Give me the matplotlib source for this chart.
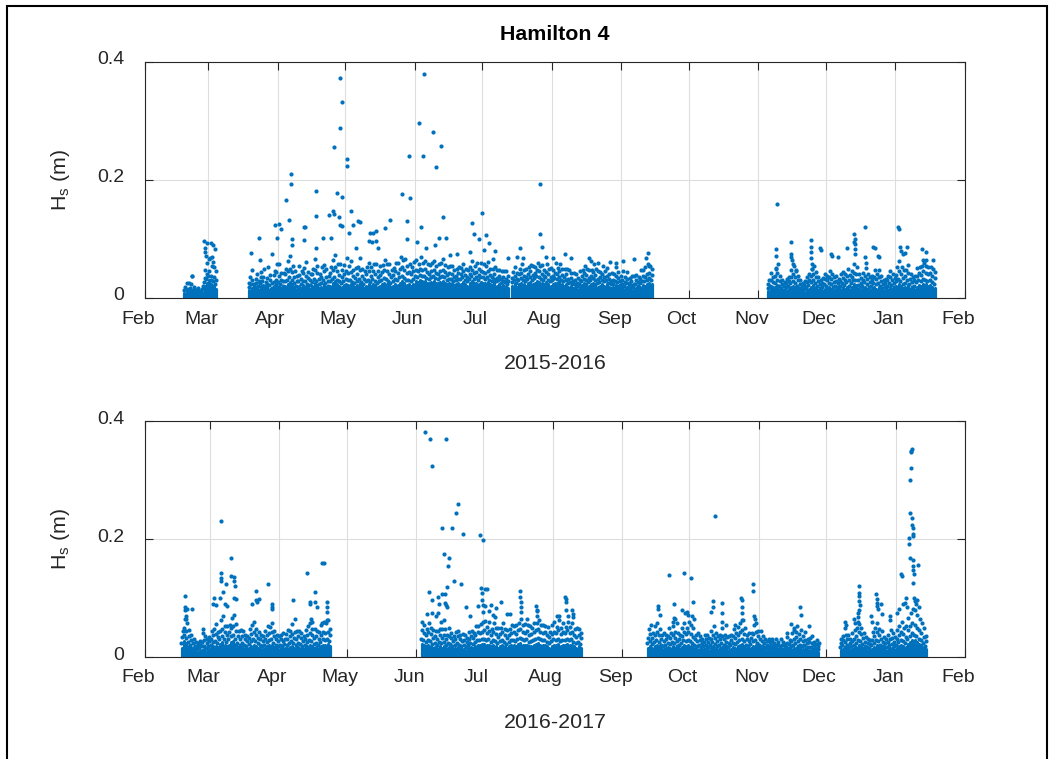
import matplotlib.pyplot as plt
import matplotlib.transforms as mtransforms
import pandas as pd

plt.rcParams['font.family'] = ['Liberation Sans', 'DejaVu Sans']
plt.rcParams['mathtext.fontset'] = 'custom'
plt.rcParams['mathtext.rm'] = 'Liberation Sans'

# Daily Hs summaries in mm, one group per day, days separated by commas.
# First number: top of the continuous low-Hs record for that day,
# following numbers: single readings standing above it.
start_a = "2015-02-18"
hs_mm_a = ("9 13 18, 11 16 25, 8 12 15, 12 17 24 37, 10 14 19, 8 11 14, 9 13 17, "
           "8 12, 11 15 21, 20 27 34 48, 26 33 41 60, 30 38 46 68, 24 31 38 55, "
           "22 29 36 52, 16 23 30 45")

start_b1 = "2015-03-19"
hs_mm_b1 = (
    "14 19 26 35, 17 23 31 47, 13 18 24, 19 25 33 41, 16 21 29, 20 26 35 44, "
    "22 28 36 50, 15 20 27, 18 24 34 52, 16 22 30 39, 13 17 25, 20 27 39 46, "
    "23 30 44 57, "
    "20 27 37 58, 17 23 31 42, 15 21 28 43, 21 28 40 49, 24 31 46 63, "
    "27 35 49 71, 23 30 44 55, 19 25 35 46, 15 21 29 38, 21 28 39 55, "
    "17 24 33 45, 22 29 42 51, 21 28 38 61, 18 24 34 44, 16 22 30 40, "
    "20 27 41 50, 25 32 47 66, 22 29 43 54, 17 23 32 41, 19 26 36 52, "
    "24 31 45 56, 18 25 35 49, 15 21 29 37, 21 28 42 53, 25 33 47 64, "
    "28 36 52 73, 23 30 45 57, 21 28 39 58, 19 26 36 47, 22 29 41 56, "
    "24 32 46 68, 22 30 43 55, 23 31 44 62, 20 27 37 48, 18 25 34 51, "
    "22 29 41 53, 25 33 48 67, 20 27 38 49, 17 23 33 46, 21 28 40 52, "
    "23 31 45 59, 20 27 38 53, 24 32 46 58, 22 29 41 57, 18 25 35 45, "
    "20 28 39 54, 23 31 44 56, 26 34 48 64, 24 32 45 58, 22 29 40 57, "
    "19 26 36 47, 21 28 39 51, 24 32 46 59, 22 30 42 60, 26 35 49 70, "
    "28 37 52 65, 25 34 47 66, 22 30 43 55, 23 31 44 58, 21 28 40 52, "
    "24 32 45 61, "
    "29 38 48 65, 27 36 46 58, 30 39 50 69, 28 37 47 60, 29 38 49 63, "
    "26 34 44 57, 25 33 41 56, 27 36 45 59, 28 37 47 62, 26 34 43 55, "
    "25 32 40 58, 27 36 46 59, 29 38 48 66, 26 35 44 56, 24 31 39 52, "
    "25 33 42 54, 25 32 41 55, 22 29 36 47, 23 30 38 49, 25 33 42 53, "
    "24 32 40 51, 27 35 45 57, 24 31 39 50, 21 28 35 48, 25 32 41 53, "
    "28 37 47 63, 25 33 42 54, 26 35 44 59, 24 31 39 50, 27 36 46 60, "
    "26 35 44 58, 25 33 42 54, 27 36 46 61, 24 31 39 50, 22 29 36 50, "
    "25 32 41 52, 21 28 34 47, 23 30 37 48, 19 26 32 45, 22 29 36 46, "
    "20 27 33 46, 17 23 29 38")

start_b2 = "2015-07-14"
hs_mm_b2 = (
    "20 27 34 44, 23 30 38 52, 19 26 33 42, 24 31 40 50, 26 34 43 57, "
    "23 30 38 48, 21 28 35 49, 25 32 41 52, 27 35 45 56, 24 31 39 55, "
    "26 34 43 53, 28 37 47 60, 27 35 45 55, 25 32 41 56, 23 30 38 48, "
    "27 35 44 58, 24 31 40 50, 21 28 36 51, "
    "23 30 38 48, 26 34 43 60, 25 32 41 51, 28 36 46 58, 24 31 39 49, "
    "21 28 36 50, 24 31 40 50, 19 26 33 47, 20 27 34 43, 17 23 29 43, "
    "18 24 31 40, 15 20 26 34, 18 24 31 45, 22 29 37 47, 25 32 42 55, "
    "23 30 39 49, 20 27 34 48, 23 30 38 48, 26 34 44 57, 23 30 39 49, "
    "19 26 33 46, 20 27 35 44, 24 31 41 54, 21 28 36 46, 23 30 38 51, "
    "19 25 32 41, 17 23 29 42, 18 24 31 40, 22 29 37 53, 20 27 34 44, "
    "17 22 28 37, "
    "18 24 31 46, 16 21 27 36, 18 25 32 44, 15 20 26 34, 17 22 29 38, "
    "14 19 24 37, 17 23 30 39, 16 21 27 35, 19 26 33 48, 22 29 37 47, "
    "21 28 36 52, 24 31 40 57, 26 34 43 55, 23 30 39 50")

start_c = "2015-11-05"
hs_mm_c = (
    "12 17 23 31, 15 21 30 42, 14 19 27 35, 19 26 38 51, 22 30 42 58, "
    "15 21 29 37, 12 17 24 31, 10 14 20 27, 13 18 25 33, 15 20 28 36, "
    "18 25 35 47, 21 29 40 55, 19 26 36 45, 15 21 30 38, 12 17 24 31, "
    "9 13 19 25, 11 16 22 29, 14 19 27 35, 16 22 31 40, 19 27 37 49, "
    "22 30 41 54, 18 25 35 44, 14 20 28 36, 12 17 23 30, 14 19 26 34, "
    "16 23 32 41, "
    "15 21 30 38, 18 25 35 46, 16 23 32 41, 14 19 27 35, 15 21 29 37, "
    "13 18 25 32, 15 21 29 40, 18 25 34 44, 16 22 31 40, 19 27 37 50, "
    "15 21 30 39, 19 26 36 46, 23 31 43 58, 22 30 41 52, 16 22 31 40, "
    "14 19 26 34, 15 21 30 42, 19 27 37 51, 16 23 32 41, 14 19 27 35, "
    "15 21 30 38, 18 25 35 47, 16 23 32 41, 19 26 36 48, 15 21 29 37, "
    "12 17 23 30, 13 18 25 32, 15 21 30 38, 18 25 35 45, 16 22 31 40, "
    "14 19 26 34, "
    "20 28 39 53, 24 33 45 62, 21 29 41 52, 17 24 34 48, 19 26 37 47, "
    "22 30 42 56, 16 23 32 41, 14 19 27 35, 15 21 30 38, 19 27 37 51, "
    "22 30 42 53, 20 28 39 55, 24 33 45 60, 23 31 43 54, 21 29 40 52, "
    "22 30 42 53, 19 27 37 50, 17 24 34 44")

start_d = "2016-02-17"
hs_mm_d = (
    "16 23 34 44, 27 37 49 64, 24 33 44 58, 18 25 36 46, 15 21 29 37, "
    "11 16 23 30, 10 14 19 25, 9 13 18 24, 10 15 21 27, 12 18 26 41, "
    "14 19 28 35, 11 16 23 30, 13 18 27 34, "
    "15 21 30 44, 18 26 37 47, 19 27 39 56, 17 24 34 43, 22 31 44 62, "
    "25 35 48 70, 21 30 42 53, 18 26 37 52, 21 30 43 54, 25 35 49 66, "
    "27 37 52 72, 22 31 44 56, 17 24 35 44, 15 21 30 45, 17 24 35 44, "
    "15 21 30 38, 13 19 27 35, 16 22 32 47, 19 27 39 55, 21 30 42 60, "
    "19 27 38 48, 16 23 33 42, 15 21 30 38, 13 19 27 35, 15 21 30 44, "
    "18 26 37 53, 20 28 40 51, 21 30 42 57, 17 24 35 44, 15 21 30 38, "
    "13 19 27 35, "
    "15 21 30 38, 13 19 27 40, 16 22 31 39, 15 21 30 45, 17 24 35 44, "
    "19 27 39 56, 16 23 33 42, 15 21 30 44, 17 24 35 44, 16 22 32 41, "
    "13 19 27 35, 15 21 31 46, 18 26 37 52, 21 29 41 58, 19 27 38 48, "
    "16 22 32 47, 17 24 35 44, 15 21 30 43, 18 26 37 55, 21 30 42 60, "
    "20 28 40 57, 22 31 43 63, 19 27 38 48")

start_e = "2016-06-03"
hs_mm_e = (
    "22 31 45 60, 20 28 40 55, 18 26 37 47, 21 29 42 58, 19 27 39 49, "
    "16 22 32 46, 17 24 35 44, 15 21 30 44, 18 26 37 47, 16 23 33 48, "
    "18 26 37 47, 15 21 30 38, 17 24 35 50, 16 22 32 41, 13 19 27 35, "
    "15 21 30 42, 17 24 35 44, 15 21 30 38, 13 19 27 39, 14 20 29 37, "
    "12 17 25 32, 15 21 30 43, 17 24 35 44, 16 22 32 41, 18 26 37 52, "
    "21 29 42 53, 20 28 40 56, 22 30 43 59, "
    "22 31 45 61, 20 28 40 51, 21 30 44 60, 18 26 37 47, 21 29 42 57, "
    "19 27 39 49, 16 23 34 49, 19 27 39 49, 21 29 42 58, 18 26 37 47, "
    "16 22 32 46, 18 26 38 48, 20 28 40 55, 21 29 42 53, 19 27 39 54, "
    "22 31 45 57, 24 33 48 64, 21 30 43 54, 20 28 40 56, 21 30 44 55, "
    "18 26 37 52, 19 27 39 49, 21 29 42 58, 22 31 45 57, 24 33 48 63, "
    "21 30 43 54, 20 28 40 55, 21 29 42 53, 18 26 37 51, 16 23 34 43, "
    "19 27 39 54, "
    "21 30 43 59, 20 28 40 51, 22 31 45 62, 19 27 39 49, 21 29 42 57, "
    "20 28 40 51, 22 31 45 60, 20 28 40 51, 21 30 43 58, 18 26 38 48, "
    "16 23 34 49, 18 26 37 47, 16 22 32 41")

start_f = "2016-09-12"
hs_mm_f = (
    "16 23 33 47, 19 27 39 55, 16 22 32 41, 18 26 37 52, 21 29 42 58, "
    "18 26 37 47, 15 21 30 38, 13 19 27 40, 15 21 30 38, 17 24 35 49, "
    "16 22 32 41, 18 26 37 53, 16 23 33 42, 13 19 27 41, 15 21 30 38, "
    "17 24 35 50, 21 29 42 57, 19 27 39 49, 21 29 42 60, "
    "19 27 39 55, 16 23 34 50, 15 21 30 38, 13 19 27 40, 14 20 28 36, "
    "12 17 24 31, 13 19 26 38, 15 21 30 38, 12 17 25 32, 15 21 30 44, "
    "18 26 37 52, 16 22 32 41, 13 19 27 35, 15 21 30 38, 17 24 35 49, "
    "15 21 30 38, 13 19 26 34, 12 17 24 36, 14 20 29 37, 17 24 35 47, "
    "16 22 32 41, 18 26 37 51, 21 29 42 57, 22 31 45 62, 19 27 39 49, "
    "15 21 30 38, 13 19 27 41, 16 22 32 41, 19 27 39 54, 21 29 42 58, "
    "17 24 35 44, "
    "15 21 30 44, 13 19 27 35, 12 17 24 31, 11 15 21 27, 10 14 19 25, "
    "11 15 21 27, 9 13 18 24, 8 12 16 21, 10 14 20 26, 9 13 18 30, "
    "10 14 20 26, 8 12 17 22, 12 17 23 34, 11 15 22 28, 13 19 27 40, "
    "15 21 30 46, 16 23 34 43, 13 19 27 39, 15 21 30 45, 13 19 27 35, "
    "14 20 28 42, 12 17 24 31, 12 17 25 32, 12 17 23 35, 10 14 20 26, "
    "11 15 22 28, 9 13 18 24")

start_g = "2016-12-07"
hs_mm_g = (
    "12 17 23 30, 14 20 28 36, 12 17 25 38, 15 21 30 38, 12 17 24 31, "
    "13 19 27 41, 15 21 30 45, 17 24 35 50, 21 29 42 56, 19 27 39 49, "
    "16 22 32 41, 13 19 26 34, 12 17 24 31, 11 15 22 28, 14 20 28 42, "
    "17 24 35 49, 21 29 42 58, 19 27 38 48, 15 21 30 44, 13 19 26 34, "
    "12 17 23 30, 12 17 25 37, 15 21 30 45, 16 22 32 41, 13 19 26 34, "
    "15 21 30 46, 18 26 37 53, 21 29 42 60, 19 27 39 49, 17 24 34 52, "
    "22 31 45 66, 26 36 52 75, 29 40 58 82, 28 38 55 79, 26 36 50 72, "
    "22 31 45 64, 20 28 40 58, 17 24 34 50, 13 19 27 35")

# Individual high readings (time, Hs in m)
peaks_2015 = [
    ("2015-02-20 12", 0.025), ("2015-02-21 18", 0.037), ("2015-02-27 08", 0.096),
    ("2015-02-27 14", 0.085), ("2015-02-27 20", 0.078), ("2015-02-28 06", 0.072),
    ("2015-02-28 12", 0.093), ("2015-03-01 10", 0.066), ("2015-03-02 12", 0.094),
    ("2015-03-02 18", 0.070), ("2015-03-03 02", 0.089), ("2015-03-03 10", 0.061),
    ("2015-03-04 00", 0.083),
    ("2015-03-20 01", 0.076), ("2015-03-23 22", 0.102), ("2015-03-24 05", 0.064),
    ("2015-03-29 12", 0.075), ("2015-03-30 21", 0.124), ("2015-03-31 18", 0.102),
    ("2015-04-01 19", 0.125), ("2015-04-02 10", 0.117), ("2015-04-04 22", 0.166),
    ("2015-04-05 23", 0.132), ("2015-04-06 22", 0.193), ("2015-04-06 23", 0.211),
    ("2015-04-07 10", 0.100), ("2015-04-07 12", 0.090), ("2015-04-12 14", 0.099),
    ("2015-04-12 19", 0.121), ("2015-04-13 07", 0.121), ("2015-04-17 22", 0.139),
    ("2015-04-17 23", 0.181), ("2015-04-18 02", 0.084), ("2015-04-21 02", 0.102),
    ("2015-04-24 00", 0.141), ("2015-04-24 14", 0.102), ("2015-04-25 17", 0.147),
    ("2015-04-26 06", 0.256), ("2015-04-26 08", 0.142), ("2015-04-27 14", 0.178),
    ("2015-04-28 12", 0.138), ("2015-04-28 19", 0.373), ("2015-04-28 21", 0.288),
    ("2015-04-28 22", 0.123), ("2015-04-29 13", 0.332), ("2015-04-29 19", 0.171),
    ("2015-04-29 20", 0.122),
    ("2015-05-01 22", 0.236), ("2015-05-01 23", 0.223), ("2015-05-02 22", 0.111),
    ("2015-05-03 19", 0.148), ("2015-05-04 17", 0.123), ("2015-05-05 19", 0.085),
    ("2015-05-06 22", 0.130), ("2015-05-07 19", 0.128), ("2015-05-11 14", 0.097),
    ("2015-05-12 04", 0.110), ("2015-05-13 05", 0.095), ("2015-05-13 12", 0.111),
    ("2015-05-14 17", 0.113), ("2015-05-14 20", 0.096), ("2015-05-15 17", 0.084),
    ("2015-05-18 23", 0.119), ("2015-05-21 01", 0.133), ("2015-05-26 06", 0.176),
    ("2015-05-28 14", 0.131), ("2015-05-28 16", 0.100), ("2015-05-29 17", 0.240),
    ("2015-05-29 19", 0.170),
    ("2015-06-01 22", 0.095), ("2015-06-02 23", 0.296), ("2015-06-03 17", 0.121),
    ("2015-06-04 18", 0.240), ("2015-06-05 01", 0.380), ("2015-06-06 02", 0.084),
    ("2015-06-09 05", 0.281), ("2015-06-10 02", 0.090), ("2015-06-10 12", 0.222),
    ("2015-06-11 17", 0.102), ("2015-06-12 18", 0.258), ("2015-06-13 19", 0.137),
    ("2015-06-14 20", 0.101), ("2015-06-16 19", 0.073), ("2015-06-20 00", 0.074),
    ("2015-06-25 12", 0.078), ("2015-06-26 17", 0.127), ("2015-06-27 14", 0.109),
    ("2015-06-29 19", 0.100), ("2015-06-30 21", 0.144),
    ("2015-07-01 19", 0.082), ("2015-07-02 22", 0.106), ("2015-07-04 00", 0.093),
    ("2015-07-06 00", 0.066), ("2015-07-07 00", 0.079), ("2015-07-12 17", 0.067),
    ("2015-07-16 14", 0.070), ("2015-07-17 19", 0.084), ("2015-07-19 07", 0.068),
    ("2015-07-26 15", 0.108), ("2015-07-26 17", 0.194), ("2015-07-27 17", 0.086),
    ("2015-07-29 12", 0.070),
    ("2015-08-01 14", 0.068), ("2015-08-06 19", 0.075), ("2015-08-09 14", 0.068),
    ("2015-08-17 19", 0.067), ("2015-08-18 10", 0.062), ("2015-08-21 14", 0.060),
    ("2015-08-27 00", 0.061), ("2015-08-29 14", 0.060),
    ("2015-09-01 19", 0.063), ("2015-09-06 17", 0.066), ("2015-09-12 00", 0.067),
    ("2015-09-12 18", 0.076), ("2015-09-13 06", 0.054),
    ("2015-11-08 16", 0.083), ("2015-11-08 17", 0.071), ("2015-11-08 18", 0.049),
    ("2015-11-09 07", 0.159), ("2015-11-15 10", 0.095), ("2015-11-15 14", 0.074),
    ("2015-11-15 18", 0.070), ("2015-11-16 02", 0.064), ("2015-11-16 08", 0.057),
    ("2015-11-17 19", 0.047), ("2015-11-24 10", 0.098), ("2015-11-24 12", 0.087),
    ("2015-11-24 14", 0.078), ("2015-11-24 16", 0.067), ("2015-11-24 18", 0.058),
    ("2015-11-24 20", 0.049), ("2015-11-28 14", 0.084), ("2015-11-29 00", 0.082),
    ("2015-12-03 05", 0.075), ("2015-12-03 19", 0.071), ("2015-12-06 14", 0.069),
    ("2015-12-10 14", 0.085), ("2015-12-13 12", 0.095), ("2015-12-13 17", 0.108),
    ("2015-12-13 20", 0.100), ("2015-12-13 22", 0.075), ("2015-12-14 02", 0.083),
    ("2015-12-14 06", 0.092), ("2015-12-18 12", 0.121), ("2015-12-18 16", 0.070),
    ("2015-12-18 20", 0.060), ("2015-12-22 00", 0.086), ("2015-12-22 21", 0.085),
    ("2015-12-24 06", 0.072), ("2015-12-24 18", 0.070),
    ("2016-01-02 07", 0.121), ("2016-01-02 12", 0.117), ("2016-01-02 22", 0.086),
    ("2016-01-03 10", 0.080), ("2016-01-04 06", 0.074), ("2016-01-05 12", 0.077),
    ("2016-01-06 05", 0.086), ("2016-01-13 00", 0.083), ("2016-01-13 08", 0.065),
    ("2016-01-14 12", 0.078), ("2016-01-14 20", 0.064), ("2016-01-17 22", 0.065),
]

peaks_2016 = [
    ("2016-02-18 17", 0.085), ("2016-02-18 19", 0.080), ("2016-02-18 20", 0.103),
    ("2016-02-19 06", 0.070), ("2016-02-19 10", 0.065), ("2016-02-19 17", 0.082),
    ("2016-02-21 22", 0.081), ("2016-02-26 22", 0.048),
    ("2016-03-02 12", 0.090), ("2016-03-02 17", 0.100), ("2016-03-03 17", 0.088),
    ("2016-03-05 12", 0.100), ("2016-03-05 17", 0.142), ("2016-03-05 18", 0.134),
    ("2016-03-05 19", 0.230), ("2016-03-05 20", 0.128), ("2016-03-06 17", 0.111),
    ("2016-03-07 14", 0.090), ("2016-03-08 07", 0.123), ("2016-03-08 12", 0.087),
    ("2016-03-10 10", 0.168), ("2016-03-10 12", 0.138), ("2016-03-11 17", 0.100),
    ("2016-03-11 21", 0.128), ("2016-03-11 22", 0.135), ("2016-03-12 07", 0.120),
    ("2016-03-12 10", 0.098), ("2016-03-19 22", 0.090), ("2016-03-21 14", 0.096),
    ("2016-03-21 17", 0.112), ("2016-03-21 20", 0.093), ("2016-03-22 18", 0.098),
    ("2016-03-27 00", 0.124), ("2016-03-28 12", 0.090), ("2016-03-28 14", 0.084),
    ("2016-03-28 18", 0.081),
    ("2016-04-06 22", 0.097), ("2016-04-07 19", 0.065), ("2016-04-13 05", 0.143),
    ("2016-04-14 12", 0.094), ("2016-04-14 19", 0.090), ("2016-04-15 05", 0.065),
    ("2016-04-15 12", 0.060), ("2016-04-16 20", 0.093), ("2016-04-16 22", 0.111),
    ("2016-04-17 22", 0.085), ("2016-04-19 20", 0.058), ("2016-04-19 22", 0.160),
    ("2016-04-21 00", 0.159), ("2016-04-22 02", 0.094), ("2016-04-22 04", 0.085),
    ("2016-04-22 07", 0.076), ("2016-04-22 10", 0.063),
    ("2016-06-04 20", 0.381), ("2016-06-05 22", 0.073), ("2016-06-06 22", 0.111),
    ("2016-06-07 02", 0.370), ("2016-06-07 23", 0.096), ("2016-06-08 00", 0.323),
    ("2016-06-08 02", 0.075), ("2016-06-09 22", 0.070), ("2016-06-10 14", 0.102),
    ("2016-06-10 22", 0.074), ("2016-06-11 10", 0.090), ("2016-06-12 07", 0.060),
    ("2016-06-12 10", 0.107), ("2016-06-12 14", 0.219), ("2016-06-13 07", 0.063),
    ("2016-06-13 14", 0.175), ("2016-06-13 19", 0.107), ("2016-06-13 22", 0.092),
    ("2016-06-14 05", 0.370), ("2016-06-14 10", 0.088), ("2016-06-14 14", 0.085),
    ("2016-06-14 19", 0.119), ("2016-06-15 05", 0.155), ("2016-06-15 17", 0.168),
    ("2016-06-16 22", 0.219), ("2016-06-17 19", 0.128), ("2016-06-18 19", 0.244),
    ("2016-06-19 20", 0.260), ("2016-06-20 22", 0.124), ("2016-06-21 22", 0.208),
    ("2016-06-23 02", 0.084), ("2016-06-24 22", 0.070), ("2016-06-28 12", 0.086),
    ("2016-06-29 17", 0.206), ("2016-06-29 19", 0.117), ("2016-06-30 08", 0.097),
    ("2016-06-30 12", 0.108), ("2016-06-30 17", 0.198), ("2016-06-30 20", 0.088),
    ("2016-07-01 02", 0.076), ("2016-07-01 14", 0.116), ("2016-07-01 22", 0.086),
    ("2016-07-02 19", 0.116), ("2016-07-03 12", 0.078), ("2016-07-04 10", 0.088),
    ("2016-07-05 06", 0.072), ("2016-07-06 00", 0.068), ("2016-07-06 19", 0.083),
    ("2016-07-08 22", 0.093), ("2016-07-11 17", 0.073), ("2016-07-12 22", 0.073),
    ("2016-07-17 12", 0.112), ("2016-07-17 14", 0.102), ("2016-07-17 16", 0.094),
    ("2016-07-17 18", 0.085), ("2016-07-17 20", 0.077), ("2016-07-20 12", 0.065),
    ("2016-07-24 16", 0.086), ("2016-07-24 19", 0.078), ("2016-07-24 22", 0.070),
    ("2016-07-25 00", 0.080),
    ("2016-08-02 19", 0.070), ("2016-08-03 19", 0.070), ("2016-08-06 14", 0.102),
    ("2016-08-06 17", 0.099), ("2016-08-06 19", 0.094), ("2016-08-06 22", 0.080),
    ("2016-08-07 22", 0.070), ("2016-08-09 18", 0.080), ("2016-08-09 22", 0.073),
    ("2016-08-10 02", 0.068),
    ("2016-09-16 19", 0.086), ("2016-09-16 21", 0.082), ("2016-09-17 17", 0.071),
    ("2016-09-21 18", 0.139), ("2016-09-23 12", 0.059), ("2016-09-24 00", 0.090),
    ("2016-09-24 08", 0.066), ("2016-09-24 16", 0.064), ("2016-09-25 06", 0.058),
    ("2016-09-27 12", 0.080), ("2016-09-28 17", 0.143), ("2016-09-29 02", 0.075),
    ("2016-09-29 18", 0.076), ("2016-09-30 06", 0.072),
    ("2016-10-01 17", 0.134), ("2016-10-02 08", 0.070), ("2016-10-02 17", 0.093),
    ("2016-10-02 22", 0.065), ("2016-10-10 12", 0.076), ("2016-10-11 12", 0.084),
    ("2016-10-11 14", 0.095), ("2016-10-12 13", 0.239), ("2016-10-15 10", 0.091),
    ("2016-10-15 12", 0.074), ("2016-10-15 16", 0.059), ("2016-10-17 12", 0.055),
    ("2016-10-21 12", 0.055), ("2016-10-24 04", 0.100), ("2016-10-24 06", 0.097),
    ("2016-10-24 08", 0.084), ("2016-10-24 10", 0.075), ("2016-10-24 12", 0.062),
    ("2016-10-29 10", 0.124), ("2016-10-29 12", 0.112), ("2016-10-29 20", 0.070),
    ("2016-10-30 10", 0.065),
    ("2016-11-05 12", 0.031), ("2016-11-07 00", 0.031), ("2016-11-08 12", 0.031),
    ("2016-11-13 12", 0.040), ("2016-11-15 12", 0.056), ("2016-11-16 18", 0.050),
    ("2016-11-17 22", 0.052), ("2016-11-19 12", 0.085), ("2016-11-19 16", 0.071),
    ("2016-11-23 12", 0.052),
    ("2016-12-09 07", 0.060), ("2016-12-09 12", 0.049), ("2016-12-10 02", 0.055),
    ("2016-12-13 12", 0.065), ("2016-12-13 18", 0.058), ("2016-12-15 06", 0.060),
    ("2016-12-15 08", 0.068), ("2016-12-15 10", 0.075), ("2016-12-15 12", 0.080),
    ("2016-12-15 14", 0.121), ("2016-12-15 16", 0.108), ("2016-12-15 18", 0.103),
    ("2016-12-15 20", 0.095), ("2016-12-15 22", 0.088), ("2016-12-21 06", 0.070),
    ("2016-12-21 12", 0.060), ("2016-12-23 10", 0.106), ("2016-12-23 14", 0.098),
    ("2016-12-23 18", 0.092), ("2016-12-23 22", 0.086), ("2016-12-24 06", 0.082),
    ("2016-12-25 12", 0.090), ("2016-12-25 20", 0.073), ("2016-12-29 10", 0.070),
    ("2016-12-29 14", 0.063),
    ("2017-01-01 17", 0.075), ("2017-01-02 10", 0.082), ("2017-01-03 10", 0.141),
    ("2017-01-03 22", 0.138), ("2017-01-04 12", 0.090), ("2017-01-05 06", 0.092),
    ("2017-01-05 18", 0.100), ("2017-01-06 08", 0.085), ("2017-01-06 22", 0.202),
    ("2017-01-07 02", 0.192), ("2017-01-07 06", 0.168), ("2017-01-07 10", 0.244),
    ("2017-01-07 14", 0.300), ("2017-01-07 18", 0.320), ("2017-01-07 22", 0.347),
    ("2017-01-08 02", 0.350), ("2017-01-08 06", 0.353), ("2017-01-08 10", 0.235),
    ("2017-01-08 12", 0.223), ("2017-01-08 14", 0.219), ("2017-01-08 16", 0.208),
    ("2017-01-08 18", 0.205), ("2017-01-08 19", 0.125), ("2017-01-08 20", 0.164),
    ("2017-01-08 22", 0.155), ("2017-01-09 00", 0.147), ("2017-01-09 02", 0.141),
    ("2017-01-09 08", 0.100), ("2017-01-09 16", 0.095), ("2017-01-10 08", 0.090),
    ("2017-01-10 14", 0.097), ("2017-01-10 22", 0.156), ("2017-01-11 06", 0.085),
]

records_2015 = [(start_a, hs_mm_a), (start_b1, hs_mm_b1),
                (start_b2, hs_mm_b2), (start_c, hs_mm_c)]
records_2016 = [(start_d, hs_mm_d), (start_e, hs_mm_e),
                (start_f, hs_mm_f), (start_g, hs_mm_g)]

BLUE = '#0072BD'
AXIS_GREY = '#262626'


def expand_record(start, text):
    """Split the day groups into the dense-band tops and single readings."""
    t0 = pd.Timestamp(start)
    day_t, day_top, pt_t, pt_hs = [], [], [], []
    for i, day in enumerate(text.split(',')):
        vals = [int(v) for v in day.split()]
        day_t.append(t0 + pd.Timedelta(days=i + 0.5))
        day_top.append(vals[0] / 1000.0)
        extra = vals[1:]
        for k, v in enumerate(extra):
            pt_t.append(t0 + pd.Timedelta(days=i + (k + 1) / (len(extra) + 1)))
            pt_hs.append(v / 1000.0)
    return day_t, day_top, pt_t, pt_hs


def draw_panel(ax, records, peaks):
    band_t, band_top, pts_t, pts_hs = [], [], [], []
    for start, text in records:
        a, b, c, d = expand_record(start, text)
        band_t += a
        band_top += b
        pts_t += c
        pts_hs += d
    pts_t += [pd.Timestamp(p[0] + ":00") for p in peaks]
    pts_hs += [p[1] for p in peaks]

    # the densely packed low readings merge into a solid band
    ax.vlines(pd.to_datetime(band_t), 0, band_top, colors=BLUE,
              linewidth=2.3, capstyle='round')
    ax.plot(pd.to_datetime(pts_t), pts_hs, linestyle='none', marker='o',
            ms=3.0, mew=0, color=BLUE)


def style_axes(ax, fig, year0, xlabel):
    start = pd.Timestamp(f"{year0}-02-01")
    end = pd.Timestamp(f"{year0 + 1}-02-01")
    months = pd.date_range(start, end, freq='MS')
    ax.set_xlim(start, end)
    ax.set_xticks(months)
    ax.set_xticklabels([m.strftime('%b') for m in months])
    ax.set_ylim(0, 0.4)
    ax.set_yticks([0, 0.2, 0.4])
    ax.set_yticklabels(['0', '0.2', '0.4'])
    ax.grid(True, color='#dedede', linewidth=0.8)
    ax.set_axisbelow(True)
    ax.tick_params(direction='in', length=6, width=0.8, top=True, right=True,
                   colors=AXIS_GREY, labelsize=14)
    ax.tick_params(axis='x', pad=9)
    ax.tick_params(axis='y', pad=15)
    for s in ax.spines.values():
        s.set_color(AXIS_GREY)
        s.set_linewidth(0.8)
    ax.set_xlabel(xlabel, fontsize=15.4, color=AXIS_GREY, labelpad=19)
    ax.set_ylabel('H$_{\\mathregular{s}}$ (m)', fontsize=15.4, color=AXIS_GREY,
                  labelpad=18)
    # month labels sit slightly left of their ticks
    shift = mtransforms.ScaledTranslation(-7 / 100, 0, fig.dpi_scale_trans)
    for tick in ax.xaxis.get_major_ticks():
        tick.label1.set_transform(tick.label1.get_transform() + shift)
    lift = mtransforms.ScaledTranslation(0, 4 / 100, fig.dpi_scale_trans)
    for tick in ax.yaxis.get_major_ticks():
        tick.label1.set_transform(tick.label1.get_transform() + lift)


def main():
    fig = plt.figure(figsize=(10.52, 7.59), dpi=100)
    ax1 = fig.add_axes([145 / 1052, 1 - 298 / 759, 820 / 1052, 236 / 759])
    ax2 = fig.add_axes([145 / 1052, 1 - 657 / 759, 820 / 1052, 236 / 759])

    draw_panel(ax1, records_2015, peaks_2015)
    draw_panel(ax2, records_2016, peaks_2016)

    style_axes(ax1, fig, 2015, '2015-2016')
    style_axes(ax2, fig, 2016, '2016-2017')
    ax1.set_title('Hamilton 4', fontsize=15.4, fontweight='bold', pad=16)

    # figure frame
    fig.add_artist(plt.Rectangle((6.5 / 1052, -0.05), 1040.5 / 1052,
                                 1.05 - 5.5 / 759, transform=fig.transFigure,
                                 fill=False, edgecolor='black', linewidth=1.5))

    fig.savefig('out.png', dpi=100)


if __name__ == "__main__":
    main()
